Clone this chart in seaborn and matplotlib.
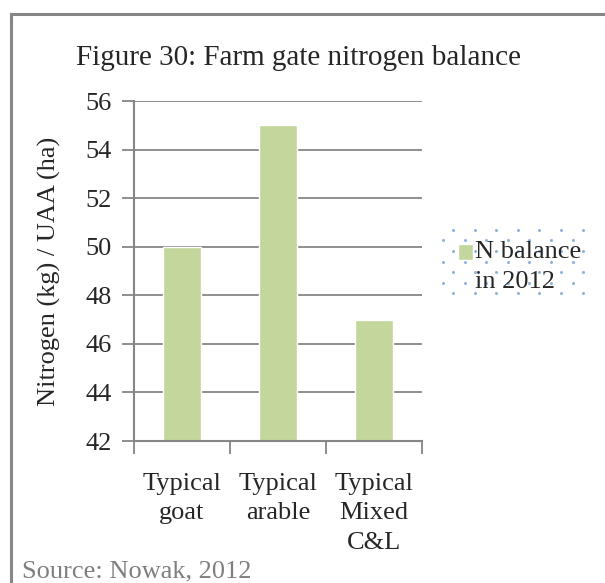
import matplotlib
matplotlib.use("Agg")
import matplotlib.pyplot as plt
from matplotlib.patches import Rectangle
from matplotlib.lines import Line2D
from matplotlib.legend_handler import HandlerPatch
import numpy as np
import seaborn as sns
import pandas as pd

# Farm gate nitrogen balance per farm type
farm_types = ["Typical\ngoat", "Typical\narable", "Typical\nMixed\nC&L"]
n_balance = [50, 55, 47]
series_name = "N balance\nin 2012"
y_ticks = [42, 44, 46, 48, 50, 52, 54, 56]

df = pd.DataFrame({"farm": farm_types, "value": n_balance, "series": series_name})

sns.set_theme(style="white")
plt.rcParams["font.family"] = ["Liberation Serif", "DejaVu Serif"]

W, H = 605, 583
fig = plt.figure(figsize=(W / 100, H / 100), dpi=100)
fig.patch.set_facecolor("white")

FS = 19


def fx(px):
    return px / W


def fy(py):
    return 1 - py / H


# outer chart frame (left and top edges visible)
frame = Rectangle((fx(11), fy(640)), fx(640), fy(14) - fy(640),
                  transform=fig.transFigure, fill=False,
                  edgecolor="#868686", linewidth=2.2, zorder=0)
fig.add_artist(frame)

ax = fig.add_axes([fx(134), fy(441), fx(422) - fx(134), fy(101) - fy(441)])
sns.barplot(data=df, x="farm", y="value", hue="series", ax=ax,
            palette=["#c3d69b"], width=0.4, saturation=1, legend=True)

ax.set_ylim(42, 56)
ax.set_yticks(y_ticks)
ax.set_xlim(-0.5, 2.5)
ax.yaxis.grid(True, color="#868686", linewidth=1.3)
ax.set_axisbelow(True)
for s in ["top", "right"]:
    ax.spines[s].set_visible(False)
for s in ["left", "bottom"]:
    ax.spines[s].set_color("#868686")
    ax.spines[s].set_linewidth(1.5)

ax.tick_params(axis="y", which="major", direction="out", length=9, width=1.3,
               color="#868686", labelsize=FS, pad=7, left=True)
# category boundary ticks on the x axis
ax.set_xticks([-0.5, 0.5, 1.5, 2.5])
ax.set_xticklabels([])
ax.tick_params(axis="x", which="major", direction="out", length=9, width=1.3,
               color="#868686", bottom=True)

# category names centred under each bar
label_tf = ax.get_xaxis_transform()
for i, name in enumerate(farm_types):
    ax.text(i, -0.095, name, transform=label_tf, ha="center", va="top",
            fontsize=FS, linespacing=1.42, clip_on=False)

ax.set_xlabel("")
ax.set_ylabel("Nitrogen (kg) / UAA (ha)", fontsize=FS)
ax.yaxis.set_label_coords(-0.255, 0.5)

fig.text(fx(298), fy(58), "Figure 30: Farm gate nitrogen balance",
         ha="center", va="center", fontsize=21)
fig.text(fx(22), fy(577), "Source: Nowak, 2012", ha="left", va="baseline",
         fontsize=19, color="#7f7f7f")


def top_square(legend, orig_handle, xdescent, ydescent, width, height, fontsize):
    s = 0.58 * fontsize
    return Rectangle((-xdescent + width - s, -ydescent + height - s * 0.8), s, s)


# dotted legend background
rows_y = np.arange(230, 294, 10.5)
dot_x, dot_y = [], []
for i, yy in enumerate(rows_y):
    xs = np.arange(453 if i % 2 == 0 else 443, 594, 21.6)
    dot_x.extend(fx(xs))
    dot_y.extend([fy(yy)] * len(xs))
fig.add_artist(Line2D(dot_x, dot_y, transform=fig.transFigure, linestyle="none",
                      marker="o", markersize=2.2, markeredgewidth=0,
                      markerfacecolor="#8fb4e0", zorder=1))

handles, labels = ax.get_legend_handles_labels()
ax.get_legend().remove()
leg = fig.legend(handles, labels, loc="upper left",
                 bbox_to_anchor=(fx(457), fy(241)), frameon=False,
                 fontsize=FS, handlelength=0.6, handleheight=1.9,
                 handletextpad=0.08, borderpad=0, borderaxespad=0,
                 handler_map={type(handles[0]): HandlerPatch(patch_func=top_square)})
leg.set_zorder(3)
for t in leg.get_texts():
    t.set_linespacing(1.45)

fig.savefig("out.png", dpi=100)
